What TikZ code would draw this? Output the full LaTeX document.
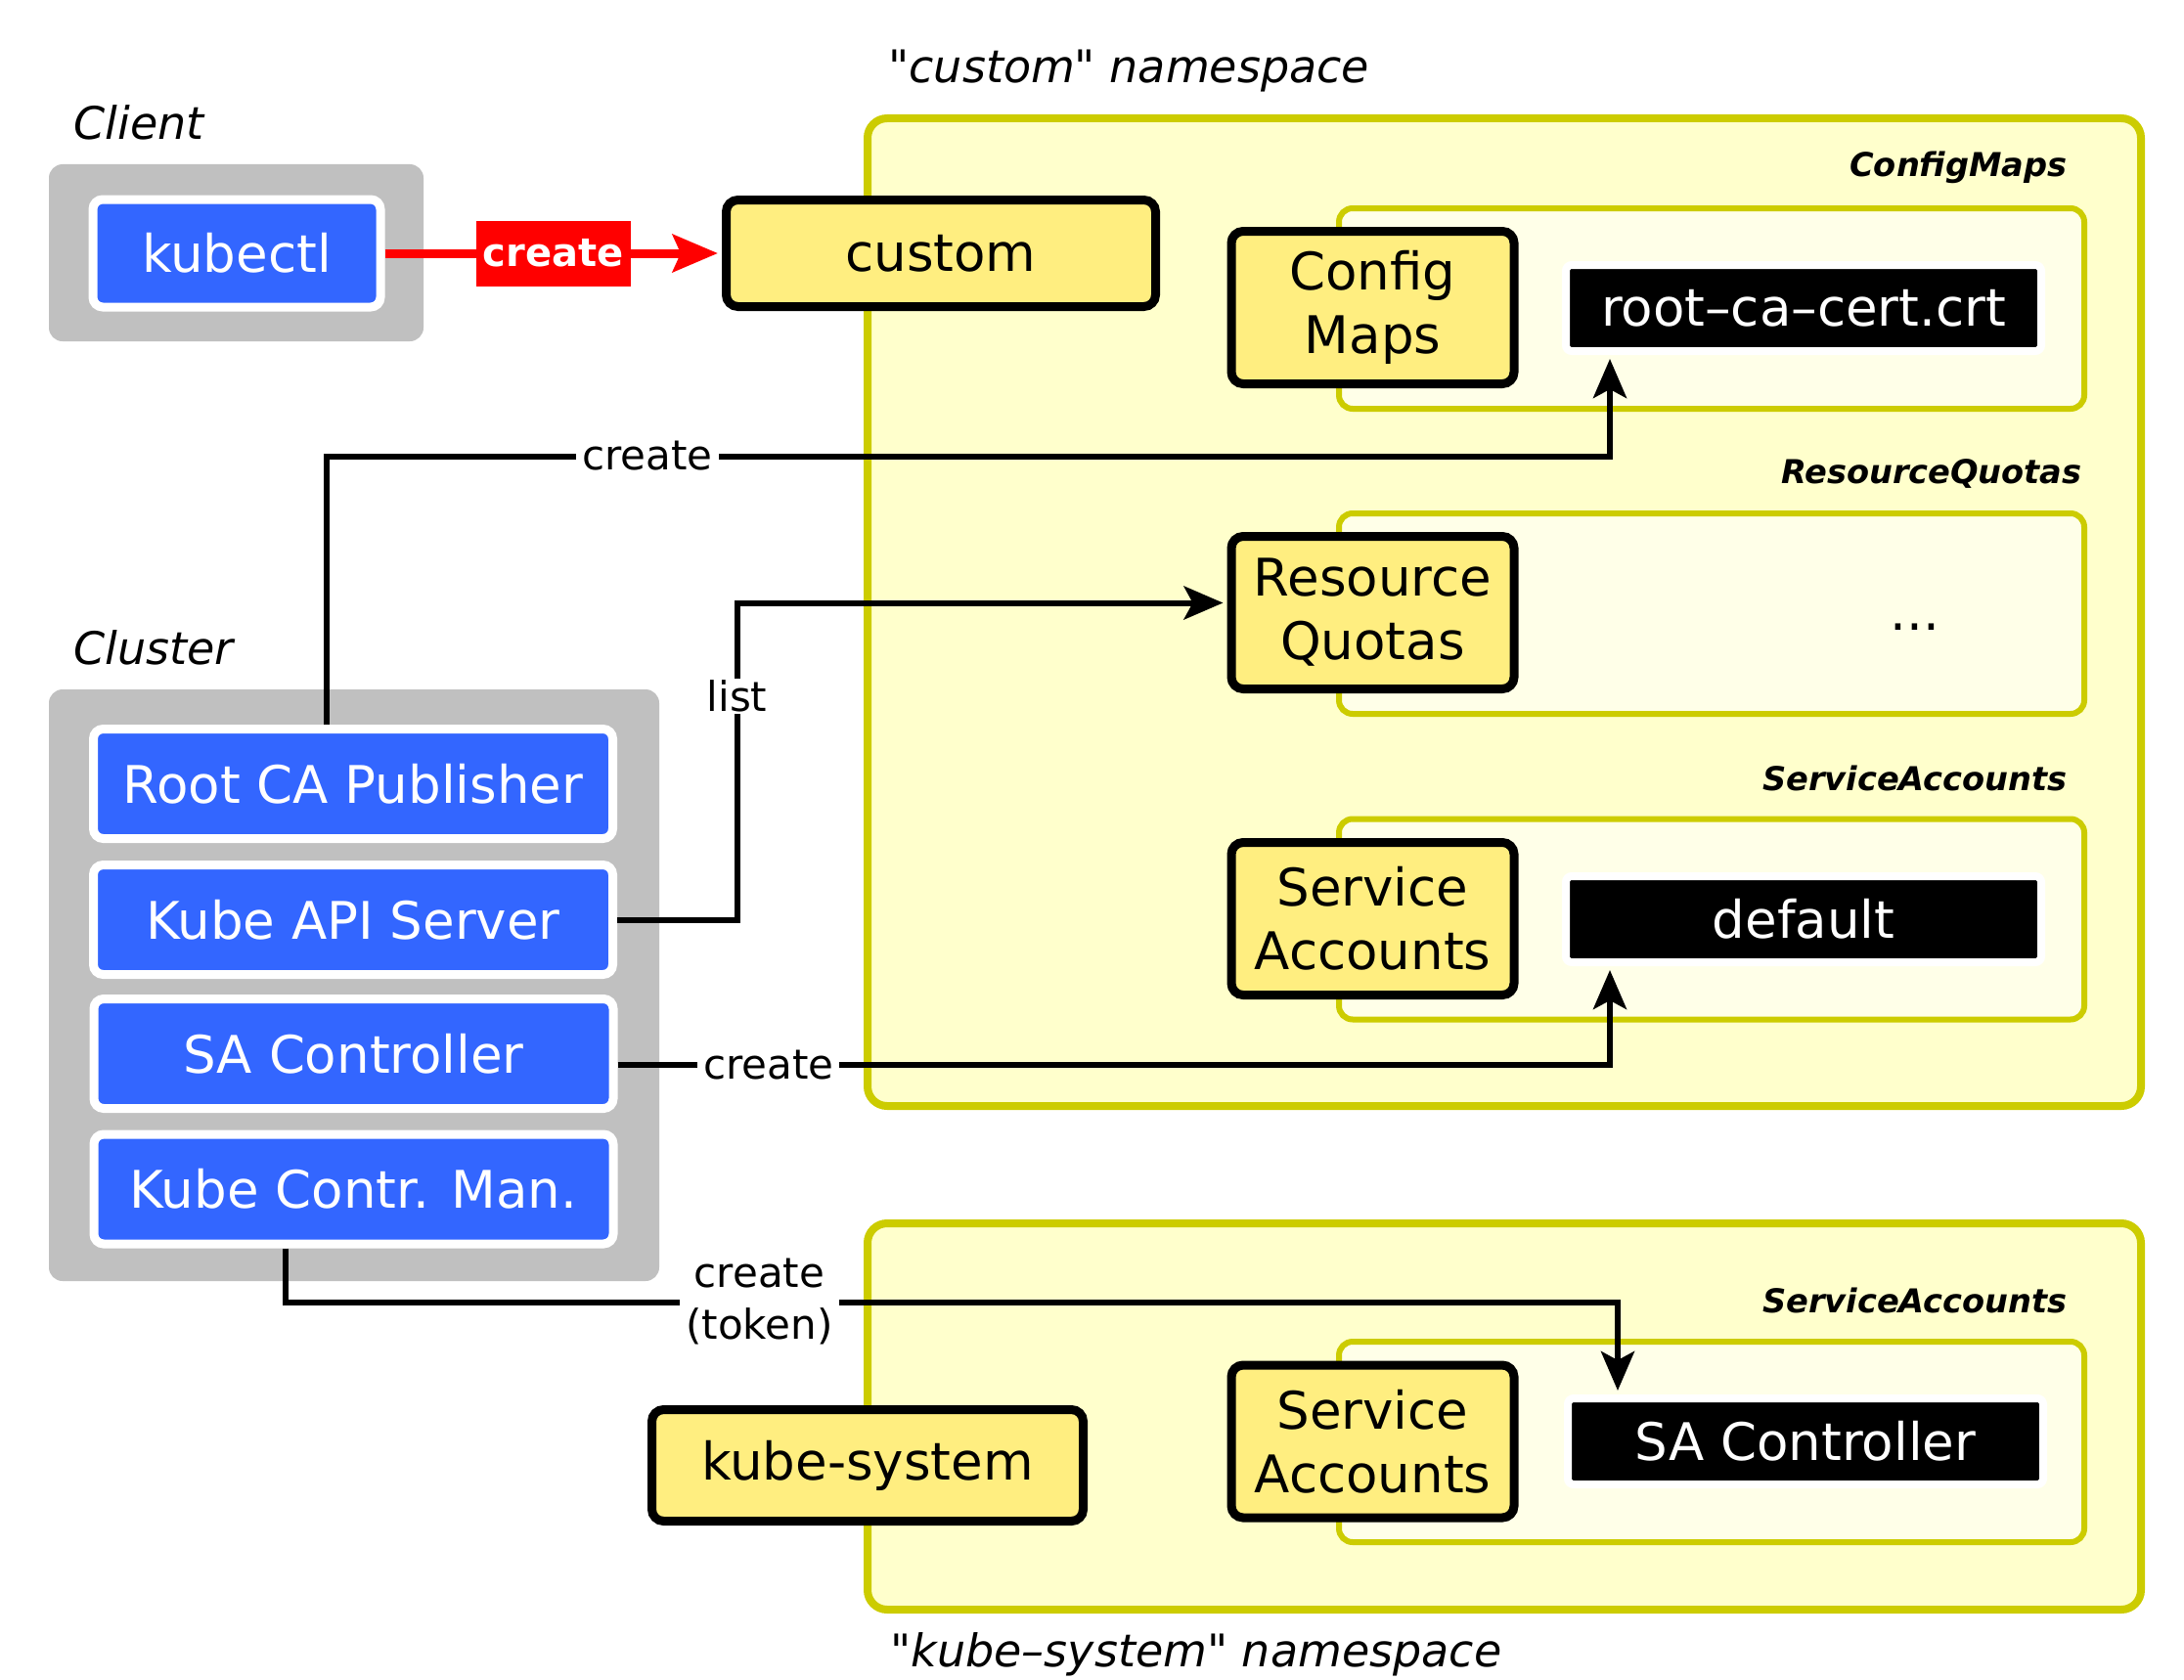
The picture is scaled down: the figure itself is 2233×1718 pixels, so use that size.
\documentclass[tikz,border=0pt]{standalone}
\usepackage{fontspec}
\setmainfont{DejaVu Sans}
\usetikzlibrary{arrows.meta}

\definecolor{compblue}{HTML}{3366FF}
\definecolor{panelgray}{HTML}{C0C0C0}
\definecolor{resyellow}{HTML}{FFEE80}
\definecolor{nsfill}{HTML}{FFFFCC}
\definecolor{nsline}{HTML}{CCCC00}
\definecolor{groupfill}{HTML}{FFFFE8}

\tikzset{
  bigtext/.style={font=\fontsize{26.5}{32.5}\selectfont},
  panel/.style={fill=panelgray, rounded corners=7pt, inner sep=0pt},
  comp/.style={bigtext, fill=compblue, draw=white, line width=4.5pt,
    rounded corners=5pt, text=white, minimum width=265.5pt,
    minimum height=56pt, inner sep=0pt},
  res/.style={bigtext, fill=resyellow, draw=black, line width=4.5pt,
    rounded corners=6pt, align=center, minimum width=144.5pt,
    minimum height=78pt, inner sep=0pt},
  nsbox/.style={fill=nsfill, draw=nsline, line width=4pt,
    rounded corners=10pt, minimum width=651pt, inner sep=0pt},
  group/.style={fill=groupfill, draw=nsline, line width=3pt,
    rounded corners=7pt, minimum width=381pt, minimum height=102.5pt,
    inner sep=0pt},
  obj/.style={bigtext, fill=black, draw=white, line width=4pt,
    rounded corners=3pt, text=white, minimum width=243pt,
    minimum height=44pt, inner sep=0pt},
  caption/.style={font=\fontsize{23}{27}\selectfont\itshape, inner sep=0pt},
  grouptitle/.style={font=\fontsize{16.8}{20}\selectfont\bfseries\itshape,
    inner sep=0pt, anchor=east},
  conn/.style={line width=3pt, shorten >=2pt,
    -{Stealth[length=20pt,width=17pt,inset=4.5pt]}},
  lbl/.style={fill=white, font=\fontsize{21}{26.5}\selectfont,
    inner xsep=3pt, inner ysep=1pt, align=center},
  redconn/.style={line width=4.5pt, draw=red, shorten >=2pt,
    -{Stealth[length=23pt,width=19pt,inset=4pt]}},
  redlbl/.style={fill=red, text=white, font=\fontsize{20}{24}\selectfont\bfseries,
    minimum width=79pt, minimum height=33.5pt, inner sep=0pt},
}

\begin{document}
\begin{tikzpicture}[x=0.5pt, y=-0.5pt]
  \useasboundingbox (0,0) rectangle (2233,1718);

  % client side
  \node[caption, anchor=west] (clientcap) at (75,125) {Client};
  \node[panel, minimum width=191.5pt, minimum height=90.5pt] (clientpanel) at (241.5,258.5) {};
  \node[comp, minimum width=147pt, minimum height=55pt] (kubectl) at (242,259) {kubectl};

  % cluster side
  \node[caption, anchor=west] (clustercap) at (75,662) {Cluster};
  \node[panel, minimum width=312pt, minimum height=302.5pt] (clusterpanel) at (362,1007.5) {};
  \node[comp] (rootca) at (361,801.5) {Root CA Publisher};
  \node[comp] (api) at (361,940.5) {Kube API Server};
  \node[comp] (sactl) at (361.5,1077.5) {SA Controller};
  \node[comp] (kcm) at (361.5,1216) {Kube Contr. Man.};

  % "custom" namespace
  \node[caption, anchor=west] (customcap) at (908,73) {\textquotedbl custom\textquotedbl{} namespace};
  \node[nsbox, minimum height=505pt] (customns) at (1538,626) {};
  \node[res, minimum width=219.5pt, minimum height=54.5pt] (custom) at (962,259) {custom};

  \node[grouptitle] (cmtitle) at (2114,171) {ConfigMaps};
  \node[group] (cmgroup) at (1750,315.5) {};
  \node[res] (cm) at (1403.5,314.5) {Config\\Maps};
  \node[obj] (rootcert) at (1844,315) {root–ca–cert.crt};

  \node[grouptitle] (rqtitle) at (2129,484) {ResourceQuotas};
  \node[group] (rqgroup) at (1750,627.5) {};
  \node[res] (rq) at (1403.5,626.5) {Resource\\Quotas};
  \node[bigtext] (rqmore) at (1958,641) {...};

  \node[grouptitle] (satitle) at (2114,796) {ServiceAccounts};
  \node[group] (sagroup) at (1750,940) {};
  \node[res] (sa) at (1403.5,939.5) {Service\\Accounts};
  \node[obj] (default) at (1844,940) {default};

  % "kube-system" namespace
  \node[nsbox, minimum height=197.5pt] (kubens) at (1538,1448.5) {};
  \node[caption, anchor=west] (kubecap) at (910,1692) {\textquotedbl kube–system\textquotedbl{} namespace};
  \node[res, minimum width=220.5pt, minimum height=57pt] (kubesys) at (887,1498.5) {kube-system};

  \node[grouptitle] (ksatitle) at (2114,1330) {ServiceAccounts};
  \node[group] (ksagroup) at (1750,1474.5) {};
  \node[res] (ksa) at (1403.5,1474) {Service\\Accounts};
  \node[obj] (sactlobj) at (1846,1474) {SA Controller};

  % connectors
  \draw[redconn] (kubectl.east) -- node[redlbl] {create} (custom.west);

  \draw[conn] ([xshift=-13.5pt]rootca.north) -- ++(0,-274.5)
    -| node[lbl, pos=0.125] {create} ([xshift=-99pt]rootcert.south);

  \draw[conn] (api.east) -- ++(122.5,0)
    |- node[lbl, pos=0.353] {list} ([yshift=5pt]rq.west);

  \draw[conn] ([yshift=-5.75pt]sactl.east)
    -| node[lbl, pos=0.076] {create} ([xshift=-99pt]default.south);

  \draw[conn] ([xshift=-35pt]kcm.south) -- ++(0,55)
    -| node[lbl, pos=0.178] {create\\(token)} ([xshift=-96pt]sactlobj.north);
\end{tikzpicture}
\end{document}
